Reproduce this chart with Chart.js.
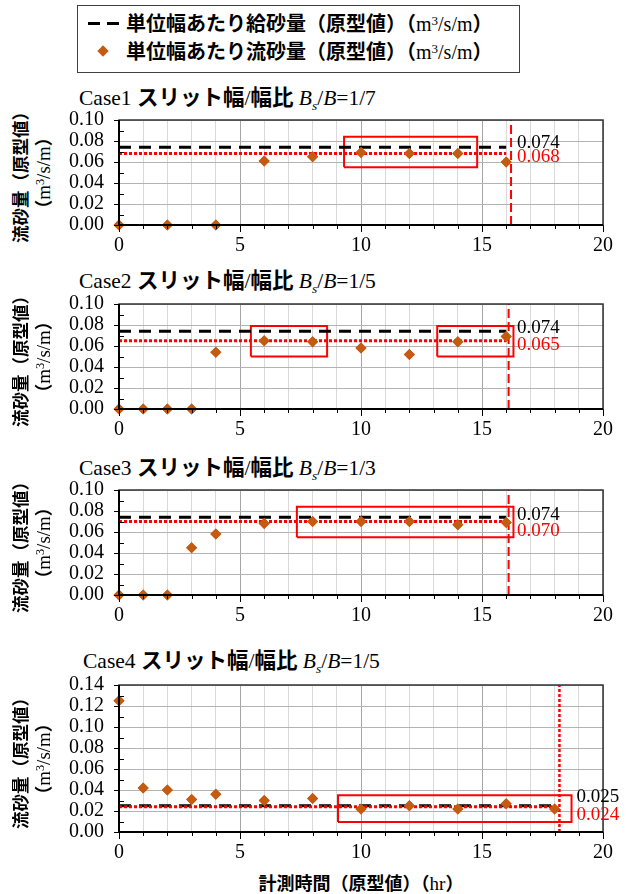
<!DOCTYPE html>
<html><head><meta charset="utf-8">
<script src="https://cdn.jsdelivr.net/npm/chart.js@4.4.1/dist/chart.umd.min.js"></script>
<style>
html,body{margin:0;padding:0;background:#fff;}
body{width:629px;height:894px;position:relative;overflow:hidden;font-family:'Liberation Serif','Times New Roman',serif;color:#000;}
.jp{font-family:'Noto Sans CJK JP',sans-serif;font-weight:bold;}
.sr{font-family:'Liberation Serif','Times New Roman',serif;}
.title{position:absolute;white-space:nowrap;font-size:21.5px;line-height:24px;}
.title sub{font-size:0.62em;vertical-align:-0.35em;line-height:0;}
.ytitle{position:absolute;width:240px;height:46px;transform:rotate(-90deg);text-align:center;white-space:nowrap;}
.ytitle div{height:23px;line-height:23px;}
sup{font-size:0.65em;vertical-align:0.5em;line-height:0;}
#legend{position:absolute;left:77px;top:5px;width:443px;height:68px;border:1px solid #404040;box-sizing:border-box;}
#legend .row{position:absolute;left:48px;height:26px;line-height:26px;font-size:20px;white-space:nowrap;}
canvas{position:absolute;left:0;}
</style></head><body>
<div id="legend">
  <div style="position:absolute;left:10px;top:16px;width:12px;height:3px;background:#000"></div>
  <div style="position:absolute;left:29px;top:16px;width:12px;height:3px;background:#000"></div>
  <div style="position:absolute;left:21px;top:41px;width:8px;height:8px;background:#c55a11;transform:rotate(45deg)"></div>
  <div class="row" style="top:4px"><span class="jp">単位幅あたり給砂量（原型値）（</span><span class="sr">m<sup>3</sup>/s/m</span><span class="jp">）</span></div>
  <div class="row" style="top:32px"><span class="jp">単位幅あたり流砂量（原型値）（</span><span class="sr">m<sup>3</sup>/s/m</span><span class="jp">）</span></div>
</div>
<div id="xtitle" style="position:absolute;left:0;width:722px;top:869px;height:26px;line-height:26px;text-align:center;font-size:18px;white-space:nowrap;"><span class="jp">計測時間（原型値）（</span><span class="sr" style="font-size:19px">hr</span><span class="jp">）</span></div>
<script>
// ---- data ----
const hoursCase1 = [0, 2, 4, 6, 8, 10, 12, 14, 16];
const fluxCase1  = [0, 0, 0, 0.061, 0.065, 0.069, 0.068, 0.068, 0.060];
const hoursCase2 = [0, 1, 2, 3, 4, 6, 8, 10, 12, 14, 16];
const fluxCase2  = [0, 0, 0, 0, 0.054, 0.065, 0.064, 0.058, 0.052, 0.064, 0.069];
const hoursCase3 = [0, 1, 2, 3, 4, 6, 8, 10, 12, 14, 16];
const fluxCase3  = [0, 0, 0, 0.045, 0.058, 0.068, 0.070, 0.070, 0.070, 0.067, 0.069];
const hoursCase4 = [0, 1, 2, 3, 4, 6, 8, 10, 12, 14, 16, 18];
const fluxCase4  = [0.125, 0.042, 0.040, 0.031, 0.036, 0.030, 0.032, 0.022, 0.025, 0.022, 0.027, 0.022];
const caseNames   = ['Case1', 'Case2', 'Case3', 'Case4'];
const slitRatios  = ['1/7', '1/5', '1/3', '1/5'];
const supplyRates = [0.074, 0.074, 0.074, 0.025];
const meanRates   = [0.068, 0.065, 0.070, 0.024];
const meanLineEnd = [16, 16, 16, 18];
const cutoffHours = [16.2, 16.1, 16.1, 18.2];
const boxHours = [[[9.3, 14.8]], [[5.45, 8.6], [13.15, 16.3]], [[7.35, 16.3]], [[9.05, 18.7]]];
const boxRates = [[[0.055, 0.084]], [[0.050, 0.079], [0.050, 0.079]], [[0.055, 0.084]], [[0.0095, 0.035]]];
const xTickLabels = [0, 5, 10, 15, 20];
const xMax = 20;
const yMaxes = [0.10, 0.10, 0.10, 0.14];

// ---- layout / style ----
const plotTop = [120, 304, 490, 685];
const plotH   = [105, 105, 105, 147];
const titleTop = [84, 267, 454, 647];
const titleLeft = [79, 79, 79, 83];
const valueLabelX = [16.45, 16.45, 16.45, 18.9];
const valueLabelDy = [[-4.5, 3.5], [-3, 4], [-2.5, 9.5], [-9, 8]];
const cutoffDash = [[9, 4], [9, 4], [9, 4], [3, 2]];
const PAD_TOP = 36, X_AXIS_H = 36, Y_AXIS_W = 119, PAD_RIGHT = 26;
const SERIF = "'Liberation Serif','Times New Roman',serif";
const hoursAll = [hoursCase1, hoursCase2, hoursCase3, hoursCase4];
const fluxAll = [fluxCase1, fluxCase2, fluxCase3, fluxCase4];

const decor = {
  id: 'decor',
  afterDraw(chart, args, o) {
    const {ctx, chartArea: a, scales: {x, y}} = chart;
    ctx.save();
    ctx.strokeStyle = '#000';
    ctx.lineWidth = 1;
    ctx.beginPath();
    for (let v = 0; v <= xMax; v++) {
      const px = Math.round(x.getPixelForValue(v)) + 0.5;
      ctx.moveTo(px, a.bottom);
      ctx.lineTo(px, a.bottom + (v % 5 === 0 ? 7 : 4));
    }
    const n = Math.round(o.ymax * 100);
    for (let k = 0; k <= n; k++) {
      const py = Math.round(y.getPixelForValue(k / 100)) + 0.5;
      if (k % 2 === 0) { ctx.moveTo(a.left - 5, py); ctx.lineTo(a.left, py); }
      else { ctx.moveTo(a.left, py); ctx.lineTo(a.left + 5, py); }
    }
    ctx.stroke();
    ctx.strokeStyle = '#333';
    ctx.lineWidth = 1.5;
    ctx.strokeRect(a.left, a.top, a.right - a.left, a.bottom - a.top);
    ctx.strokeStyle = '#000';
    ctx.lineWidth = 2;
    ctx.beginPath();
    ctx.moveTo(a.left, a.top); ctx.lineTo(a.left, a.bottom); ctx.lineTo(a.right, a.bottom);
    ctx.stroke();
    ctx.font = '19px ' + SERIF;
    ctx.textBaseline = 'middle';
    ctx.textAlign = 'left';
    const lx = x.getPixelForValue(o.labelX);
    ctx.fillStyle = '#000';
    ctx.fillText(o.supply.toFixed(3), lx, y.getPixelForValue(o.supply) + o.dy[0]);
    ctx.fillStyle = '#ff0000';
    ctx.fillText(o.mean.toFixed(3), lx, y.getPixelForValue(o.mean) + o.dy[1]);
    ctx.restore();
  },
  afterDatasetsDraw(chart) {
    const meta = chart.getDatasetMeta(0);
    const ctx = chart.ctx;
    ctx.save();
    meta.data.forEach(p => p.draw(ctx));
    ctx.restore();
  }
};

function addTitle(i) {
  const d = document.createElement('div');
  d.className = 'title';
  d.style.left = titleLeft[i] + 'px';
  d.style.top = titleTop[i] + 'px';
  d.innerHTML = '<span class="sr">' + caseNames[i] + ' </span><span class="jp">スリット幅</span><span class="sr">/</span><span class="jp">幅比</span><span class="sr"> <i>B<sub>s</sub></i>/<i>B</i>=' + slitRatios[i] + '</span>';
  document.body.appendChild(d);
  const t = document.createElement('div');
  t.className = 'ytitle';
  const cy = plotTop[i] + plotH[i] / 2;
  t.style.left = (31 - 120) + 'px';
  t.style.top = (cy - 23) + 'px';
  t.innerHTML = '<div class="jp" style="font-size:17.5px">流砂量（原型値）</div><div style="font-size:18px"><span class="jp">（</span><span class="sr" style="font-size:19px">m<sup>3</sup>/s/m</span><span class="jp">）</span></div>';
  document.body.appendChild(t);
}

function makePanel(i) {
  addTitle(i);
  const H = PAD_TOP + plotH[i] + X_AXIS_H;
  const cv = document.createElement('canvas');
  cv.width = 629; cv.height = H;
  cv.style.top = (plotTop[i] - PAD_TOP) + 'px';
  cv.style.width = '629px'; cv.style.height = H + 'px';
  document.body.appendChild(cv);
  const pts = hoursAll[i].map((h, k) => ({x: h, y: fluxAll[i][k]}));
  const ymax = yMaxes[i];
  const datasets = [
    {type: 'scatter', data: pts, pointStyle: 'rectRot', pointRadius: 5.5, pointHoverRadius: 5.5,
     backgroundColor: '#c55a11', borderColor: '#c55a11', borderWidth: 0, clip: false},
    {type: 'line', data: [{x: 0, y: meanRates[i]}, {x: meanLineEnd[i], y: meanRates[i]}],
     borderColor: '#ff0000', borderWidth: 3, borderDash: [3, 2], pointRadius: 0, fill: false},
    {type: 'line', data: [{x: 0, y: supplyRates[i]}, {x: meanLineEnd[i], y: supplyRates[i]}],
     borderColor: '#000', borderWidth: 3, borderDash: [12, 8], pointRadius: 0, fill: false},
    {type: 'line', data: [{x: cutoffHours[i], y: 0}, {x: cutoffHours[i], y: ymax}],
     borderColor: '#ff0000', borderWidth: i === 3 ? 2.5 : 2, borderDash: cutoffDash[i], pointRadius: 0, fill: false}
  ];
  boxHours[i].forEach((hr, b) => {
    const r = boxRates[i][b];
    datasets.push({type: 'line', data: [
      {x: hr[0], y: r[0]}, {x: hr[1], y: r[0]}, {x: hr[1], y: r[1]}, {x: hr[0], y: r[1]}, {x: hr[0], y: r[0]}],
      borderColor: '#ff0000', borderWidth: 2, pointRadius: 0, fill: false, tension: 0, borderJoinStyle: 'miter'});
  });
  new Chart(cv, {
    type: 'scatter',
    data: {datasets},
    plugins: [decor],
    options: {
      responsive: false, animation: false, devicePixelRatio: 1,
      layout: {padding: {left: 0, right: PAD_RIGHT, top: PAD_TOP, bottom: 0}},
      plugins: {legend: {display: false}, tooltip: {enabled: false},
        decor: {ymax, labelX: valueLabelX[i], supply: supplyRates[i], mean: meanRates[i], dy: valueLabelDy[i]}},
      events: [],
      scales: {
        x: {type: 'linear', min: 0, max: xMax,
          afterFit: s => { s.height = X_AXIS_H; },
          border: {display: false},
          grid: {drawTicks: false, lineWidth: 1,
            color: c => (c.tick && Math.round(c.tick.value) % 5 === 0) ? '#a6a6a6' : '#d9d9d9'},
          ticks: {stepSize: 1, autoSkip: false, maxRotation: 0, padding: 9, color: '#000',
            font: {family: SERIF, size: 20},
            callback: v => xTickLabels.includes(Math.round(v)) ? String(Math.round(v)) : ''}},
        y: {type: 'linear', min: 0, max: ymax,
          afterFit: s => { s.width = Y_AXIS_W; },
          border: {display: false},
          grid: {drawTicks: false, lineWidth: 1,
            color: c => (c.tick && Math.round(c.tick.value * 100) % 2 === 0) ? '#b3b3b3' : 'rgba(0,0,0,0)'},
          ticks: {stepSize: 0.01, autoSkip: false, padding: 15, color: '#000',
            font: {family: SERIF, size: 20},
            callback: v => Math.round(v * 100) % 2 === 0 ? (Math.round(v * 100) / 100).toFixed(2) : ''}}
      }
    }
  });
}
for (let i = 0; i < 4; i++) makePanel(i);
</script>
</body></html>
